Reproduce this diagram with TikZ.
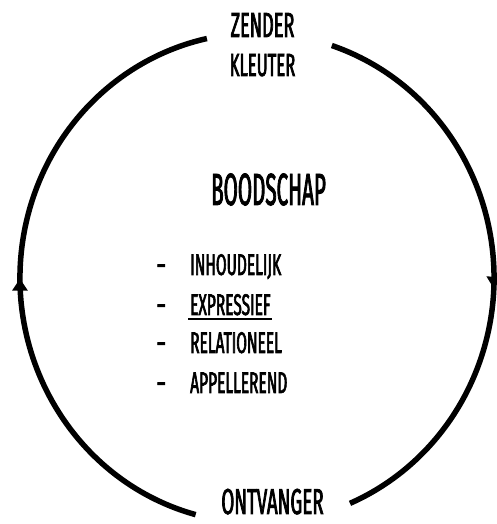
\documentclass[tikz,border=0pt]{standalone}
\usepackage{fontspec}
\setmainfont{Fira Sans}[FakeStretch=0.52, FakeBold=2]
\usetikzlibrary{arrows.meta,decorations.markings}
\begin{document}
\begin{tikzpicture}[x=1pt,y=1pt,
  ring/.style={line width=5.5pt},
  flow/.style={decoration={markings,
      mark=at position #1 with {\arrow{Triangle[width=15pt,length=12pt]}}},
    postaction={decorate}},
  word/.style={inner sep=0pt, font=\fontsize{#1}{#1}\selectfont},
  uline/.style={line width=2.6pt}
]
\useasboundingbox (0,0) rectangle (496,524);

% the cycle: two elliptic arcs around the message
\coordinate (c) at (257,246);
\path (c) ++(102.2:237 and 245) coordinate (tl);
\path (c) ++(255.0:237 and 245) coordinate (bl);
\path (c) ++(71.6:237 and 245) coordinate (tr);
\path (c) ++(-66.9:237 and 245) coordinate (br);

\draw[ring, flow=0.49] (bl) arc[start angle=255.0, end angle=102.2, x radius=237, y radius=245];
\draw[ring, flow=0.535] (tr) arc[start angle=71.6, end angle=-66.9, x radius=237, y radius=245];

% sender and receiver
\node[word=34.8, anchor=base] (zender) at (262.5,487) {ZENDER};
\node[word=32, anchor=base] (kleuter) at (262.5,448) {KLEUTER};
\node[word=36, anchor=base] (ontvanger) at (272.5,10) {ONTVANGER};

% the message and its four sides
\node[word=45, anchor=base] (boodschap) at (268.5,319) {\scalebox{0.88}[1]{BOODSCHAP}};

\node[word=29.8, anchor=base west] (d1) at (157,249) {–};
\node[word=29.8, anchor=base west] (d2) at (157,209) {–};
\node[word=29.8, anchor=base west] (d3) at (157,171) {–};
\node[word=29.8, anchor=base west] (d4) at (157,131) {–};

\node[word=29.8, anchor=base west] (inh) at (190,249) {INHOUDELIJK};
\node[word=29.8, anchor=base west] (expr) at (190,209) {EXPRESSIEF};
\node[word=29.8, anchor=base west] (rel) at (190,171) {RELATIONEEL};
\node[word=29.8, anchor=base west] (app) at (190,131) {APPELLEREND};

\draw[uline] ([shift={(-2,-4)}]expr.base west) -- ([shift={(1,-4)}]expr.base east);
\end{tikzpicture}
\end{document}
